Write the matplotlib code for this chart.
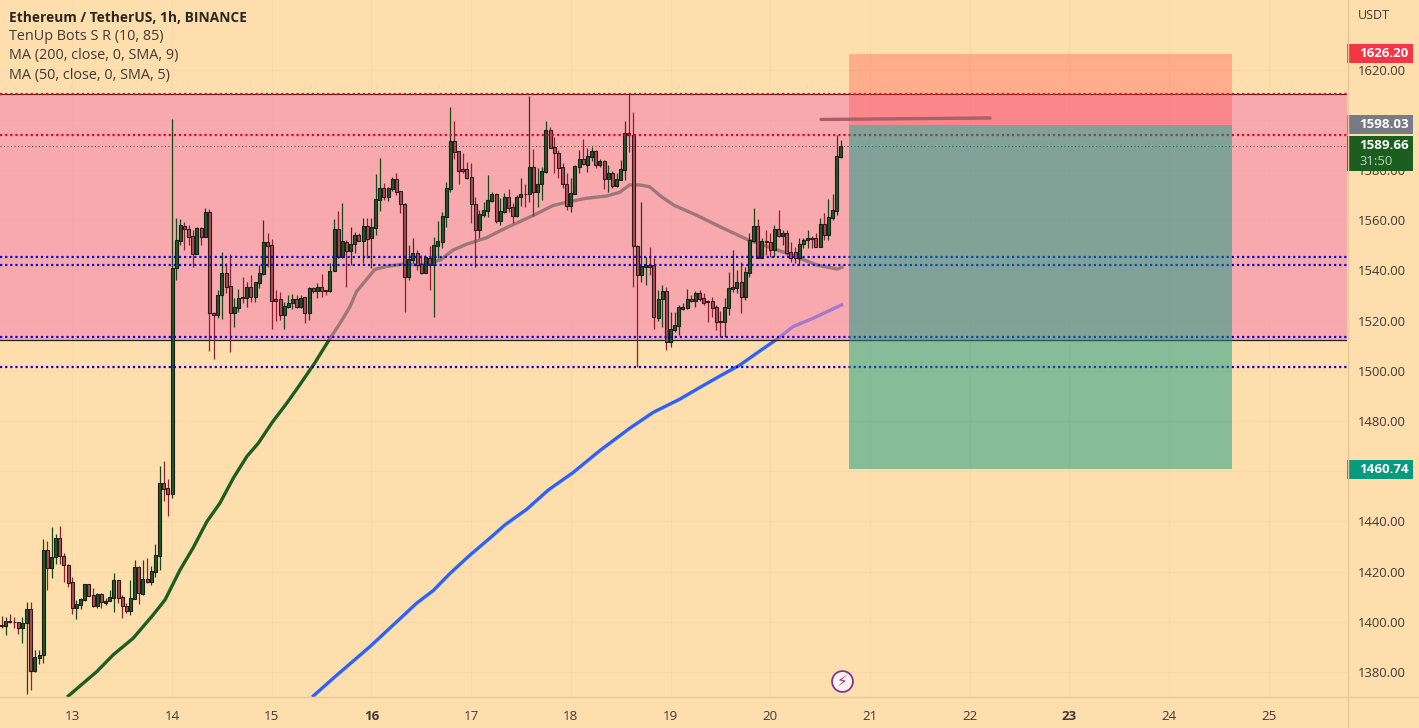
import matplotlib
matplotlib.use("Agg")
import matplotlib.pyplot as plt
from matplotlib.lines import Line2D
from matplotlib.patches import Rectangle
import numpy as np

plt.rcParams['font.family'] = ['Open Sans', 'DejaVu Sans']

# hourly candles, first one is 41 hours before the 14th
opens = [
    1398.6,1398.1,1400.3,1399.9,1399.8,1397.3,1399.4,1405.0,1380.4,1385.7,
    1386.6,1428.6,1421.2,1425.7,1433.4,1426.2,1422.5,1415.7,1405.6,1406.8,
    1408.8,1414.9,1410.5,1406.3,1411.1,1407.6,1408.4,1409.6,1416.7,1409.9,
    1406.4,1404.4,1409.2,1421.8,1411.1,1416.9,1416.0,1420.0,1426.3,1455.2,
    1453.2,1450.9,1540.8,1551.8,1557.8,1556.4,1553.7,1546.5,1556.8,1553.1,
    1563.2,1523.1,1522.2,1530.2,1538.8,1533.7,1522.9,1525.1,1529.2,1529.1,
    1533.2,1529.5,1535.0,1538.5,1551.1,1550.1,1528.4,1528.4,1522.2,1525.5,
    1526.8,1528.4,1525.5,1529.2,1523.1,1532.8,1531.9,1533.5,1532.0,1531.7,
    1539.9,1556.3,1545.2,1551.4,1547.8,1550.4,1554.1,1551.8,1557.5,1552.7,
    1556.7,1568.0,1572.9,1569.2,1572.4,1576.4,1571.5,1566.3,1537.5,1544.1,
    1547.0,1542.5,1539.0,1544.9,1542.1,1549.8,1551.4,1561.4,1572.4,1591.5,
    1587.5,1580.2,1580.2,1577.0,1566.3,1556.0,1562.0,1563.6,1567.6,1570.5,
    1559.7,1563.4,1569.2,1565.3,1561.6,1569.1,1570.5,1570.3,1581.0,1571.3,
    1574.2,1579.3,1595.9,1589.1,1586.9,1581.2,1574.2,1565.8,1570.5,1581.3,
    1584.4,1581.9,1585.0,1587.5,1581.9,1583.5,1576.4,1578.8,1573.7,1576.1,
    1580.1,1594.6,1593.9,1549.5,1538.1,1541.4,1542.1,1542.1,1521.1,1528.4,
    1531.8,1511.3,1516.2,1517.9,1524.6,1524.8,1528.6,1527.8,1530.8,1528.8,
    1527.8,1527.8,1525.3,1519.8,1519.3,1525.1,1532.6,1533.1,1535.2,1529.2,
    1539.0,1551.8,1557.7,1545.0,1551.7,1551.1,1548.1,1556.5,1553.8,1554.7,
    1547.2,1547.2,1545.0,1550.4,1551.9,1552.7,1552.7,1549.4,1558.3,1554.1,
    1560.7,1563.8,1585.3]
closes = [
    1398.1,1400.2,1399.7,1399.8,1397.3,1399.5,1405.0,1380.5,1385.8,1386.8,
    1428.6,1421.2,1425.7,1433.4,1426.0,1422.5,1415.6,1405.6,1407.0,1409.1,
    1414.9,1410.4,1406.4,1411.1,1408.0,1408.4,1409.7,1416.7,1409.6,1406.4,
    1404.4,1409.3,1421.8,1411.3,1417.1,1416.0,1420.2,1426.5,1455.3,1453.0,
    1450.9,1540.8,1552.1,1558.0,1556.3,1553.4,1546.5,1556.8,1553.4,1563.2,
    1522.9,1522.2,1530.2,1538.8,1533.5,1522.9,1525.2,1528.8,1528.8,1533.2,
    1529.5,1535.2,1538.8,1551.1,1549.8,1527.9,1527.9,1522.2,1525.8,1527.1,
    1528.4,1525.5,1529.1,1523.1,1532.8,1531.9,1533.5,1531.9,1531.7,1539.9,
    1556.3,1545.2,1551.7,1547.8,1550.4,1554.1,1551.8,1557.7,1552.5,1557.1,
    1568.4,1572.9,1569.2,1572.9,1576.4,1571.3,1566.3,1537.5,1544.5,1547.0,
    1542.1,1539.0,1545.2,1542.1,1550.1,1551.7,1561.8,1572.7,1591.5,1587.3,
    1579.7,1579.6,1576.9,1566.3,1556.0,1562.4,1564.0,1568.0,1570.5,1559.7,
    1563.6,1569.2,1564.9,1561.8,1569.3,1570.4,1570.3,1581.0,1571.3,1574.4,
    1579.6,1595.9,1588.9,1586.6,1580.9,1574.2,1565.8,1570.7,1581.5,1584.4,
    1582.2,1585.4,1587.5,1581.9,1583.5,1576.4,1578.8,1573.7,1576.4,1580.4,
    1594.6,1593.9,1549.7,1538.1,1541.7,1542.1,1541.5,1521.3,1528.6,1531.8,
    1511.3,1516.5,1518.2,1525.3,1525.3,1528.6,1527.8,1530.8,1528.7,1526.8,
    1527.2,1525.1,1519.5,1519.3,1525.3,1532.8,1533.3,1535.2,1529.5,1539.2,
    1552.1,1557.7,1545.0,1551.7,1551.1,1548.1,1556.5,1553.8,1554.7,1546.8,
    1545.0,1545.0,1550.4,1552.1,1552.7,1552.5,1549.4,1558.3,1554.1,1561.1,
    1564.0,1585.5,1589.66]
highs = [
    1402.3,1402.0,1403.1,1402.0,1399.9,1402.0,1407.9,1407.8,1388.8,1388.8,
    1432.9,1432.2,1437.8,1435.0,1438.3,1427.3,1423.0,1418.0,1408.7,1409.3,
    1415.1,1415.1,1413.3,1411.3,1411.3,1409.5,1412.7,1419.3,1416.7,1410.7,
    1407.4,1416.7,1424.5,1422.2,1424.6,1425.4,1422.0,1431.0,1462.1,1464.1,
    1456.9,1600.4,1560.7,1560.4,1559.4,1558.0,1556.0,1557.4,1557.4,1564.8,
    1564.3,1523.5,1532.1,1547.2,1542.8,1546.7,1528.8,1532.4,1537.2,1535.5,
    1538.1,1535.5,1542.1,1560.0,1554.7,1552.5,1532.1,1531.5,1527.5,1530.2,
    1530.5,1530.2,1530.2,1529.5,1533.5,1533.2,1535.0,1538.5,1532.1,1543.0,
    1560.3,1563.6,1566.9,1552.1,1557.4,1555.4,1554.7,1561.0,1560.7,1560.7,
    1578.2,1584.6,1574.7,1573.3,1577.3,1578.6,1571.6,1566.7,1550.1,1553.0,
    1548.1,1546.1,1546.1,1549.7,1553.4,1559.7,1563.4,1575.3,1605.2,1599.5,
    1587.5,1586.6,1583.0,1582.6,1569.3,1564.0,1567.3,1578.0,1571.3,1571.0,
    1568.7,1570.7,1572.4,1566.7,1570.0,1576.6,1574.2,1609.6,1588.3,1580.9,
    1581.3,1599.5,1597.2,1593.2,1587.9,1582.6,1578.6,1576.6,1581.9,1587.9,
    1592.3,1588.6,1589.3,1587.9,1584.4,1583.9,1581.9,1579.6,1578.6,1583.9,
    1599.5,1610.1,1602.9,1550.1,1567.4,1545.4,1549.4,1545.0,1532.2,1534.2,
    1533.5,1523.5,1523.5,1526.2,1526.8,1532.6,1530.2,1531.8,1532.2,1530.8,
    1528.2,1529.5,1526.2,1523.8,1528.8,1539.5,1548.1,1540.1,1543.4,1541.5,
    1554.7,1564.7,1560.4,1553.0,1556.0,1554.7,1558.0,1564.0,1556.0,1556.0,
    1551.1,1549.4,1553.0,1553.0,1556.0,1553.8,1554.7,1560.7,1562.7,1568.4,
    1570.3,1593.9,1591.9]
lows = [
    1397.3,1394.7,1399.4,1397.4,1395.1,1391.7,1371.0,1372.6,1380.1,1383.2,
    1383.7,1412.7,1417.5,1423.0,1423.0,1416.0,1414.0,1403.1,1401.2,1405.0,
    1408.4,1410.3,1406.0,1405.4,1405.6,1406.7,1408.2,1404.0,1407.6,1401.5,
    1403.6,1402.7,1409.0,1407.0,1410.8,1415.6,1414.8,1417.7,1420.6,1448.1,
    1442.3,1449.2,1536.1,1550.1,1548.1,1550.1,1541.4,1546.5,1550.1,1553.1,
    1508.0,1504.5,1520.9,1520.5,1530.8,1507.6,1517.3,1523.5,1526.8,1525.5,
    1527.5,1527.5,1532.8,1538.1,1541.4,1516.5,1519.9,1520.2,1516.5,1524.9,
    1524.6,1524.9,1524.9,1519.1,1520.2,1530.8,1528.8,1529.5,1530.2,1531.5,
    1539.9,1544.8,1544.8,1533.5,1542.1,1546.8,1551.7,1542.8,1545.0,1541.0,
    1554.1,1563.6,1568.0,1567.6,1571.6,1570.0,1562.7,1523.5,1536.1,1542.8,
    1540.1,1538.4,1539.0,1532.2,1521.5,1544.8,1548.8,1557.4,1571.3,1584.4,
    1574.4,1578.6,1576.4,1558.7,1541.5,1553.0,1561.4,1561.4,1567.1,1558.7,
    1558.0,1562.7,1563.1,1558.7,1561.4,1565.8,1565.3,1567.1,1561.8,1565.3,
    1568.0,1578.6,1588.6,1578.6,1576.6,1572.7,1564.0,1563.1,1570.3,1578.6,
    1581.9,1579.0,1583.5,1580.6,1581.3,1572.4,1571.1,1572.7,1573.2,1576.0,
    1576.0,1587.3,1533.5,1501.6,1535.5,1534.2,1538.1,1516.6,1519.8,1517.6,
    1508.3,1509.6,1515.6,1514.2,1524.2,1524.6,1527.2,1525.5,1527.8,1526.2,
    1519.5,1521.5,1516.2,1513.6,1513.6,1522.2,1531.2,1530.8,1522.9,1528.2,
    1537.5,1551.4,1544.8,1544.8,1546.1,1545.4,1545.4,1553.4,1550.1,1546.1,
    1543.4,1542.8,1542.1,1548.8,1548.8,1548.8,1549.4,1549.4,1552.1,1552.1,
    1560.0,1562.0,1584.9]

ma50_days = [12.96,13.245,13.41,13.61,13.81,13.93,14.08,14.21,14.35,14.48,14.615,14.75,14.865,
             15.01,15.15,15.28,15.43,15.585,15.685,15.785,15.85,16.035,16.15,16.32,16.49,16.69,
             16.82,16.955,17.155,17.355,17.62,17.82,17.955,18.155,18.36,18.49,18.59,18.69,18.79,
             18.91,19.04,19.26,19.495,19.78,20.165,20.47,20.67,20.72]
ma50_vals = [1370.4,1380.1,1386.8,1393.4,1402.7,1408.7,1420.6,1429.3,1439.9,1447.2,1457.2,1465.8,1471.1,
             1479.7,1487.0,1494.3,1503.0,1512.9,1518.9,1525.5,1531.5,1540.4,1541.5,1542.5,1542.1,1544.1,
             1548.1,1550.4,1553.0,1557.0,1561.8,1565.8,1567.1,1568.7,1569.6,1571.1,1574.0,1574.0,1573.3,
             1569.3,1565.8,1562.0,1557.4,1552.1,1546.8,1542.1,1540.5,1541.2]
ma200_days = [15.417,15.618,15.986,16.254,16.454,16.62,16.79,16.99,17.206,17.34,17.558,17.775,18.025,
              18.292,18.592,18.826,19.095,19.262,19.496,19.697,19.897,20.08,20.23,20.43,20.715]
ma200_vals = [1370.4,1377.5,1390.1,1400.0,1407.4,1412.4,1419.3,1426.6,1433.9,1438.6,1444.8,1452.5,1459.5,
              1468.2,1477.1,1483.4,1488.7,1492.6,1497.9,1502.3,1507.9,1512.9,1517.6,1520.9,1526.2]

band_top = 1610.2
band_bottom = 1512.2
red_levels = [1610.2, 1593.9]
blue_levels = [1545.3, 1542.2, 1513.3, 1501.6]
last_price = 1589.66
countdown = '31:50'

entry = 1598.03
stop = 1626.20
target = 1460.74
tool_start = 20.793
tool_end = 24.632

trend_days = [20.51, 22.205]
trend_vals = [1600.1, 1600.7]

day_ticks = [13, 14, 15, 16, 17, 18, 19, 20, 21, 22, 23, 24, 25]
bold_days = [16, 23]
price_ticks = list(range(1380, 1621, 20))

legend_lines = ['TenUp Bots S R (10, 85)', 'MA (200, close, 0, SMA, 9)', 'MA (50, close, 0, SMA, 5)']

bg = '#FFDEAD'
txt = '#3f3a34'
grid = '#f6d8ab'
axis_col = '#e8c89a'

W, H = 1419, 728
fig = plt.figure(figsize=(W / 100, H / 100), dpi=100, facecolor=bg)
ax = fig.add_axes([0, 31 / H, 1347 / W, 697 / H], facecolor=bg)
side = fig.add_axes([1347 / W, 31 / H, 72 / W, 697 / H], facecolor=bg)

ax.set_xlim(12.2748, 25.785)
ax.set_ylim(1370.0, 1647.7)
side.set_xlim(0, 72)
side.set_ylim(1370.0, 1647.7)

ax.set_xticks(day_ticks)
ax.set_yticks(price_ticks)
ax.set_yticklabels([])
ax.set_xticklabels([str(d) for d in day_ticks], fontsize=9.6, color=txt)
for lab, d in zip(ax.get_xticklabels(), day_ticks):
    if d in bold_days:
        lab.set_fontweight('bold')
ax.tick_params(length=0, pad=9)
ax.grid(True, color=grid, lw=0.8, zorder=0.5)
ax.set_axisbelow(True)
for s in ax.spines.values():
    s.set_visible(False)
for s in side.spines.values():
    s.set_visible(False)

# the moving averages sit under the band, that is why they go grey / purple in it
ax.plot(ma50_days, ma50_vals, color='#1b5e20', lw=2.4, zorder=1.5, solid_joinstyle='round')
ax.plot(ma200_days, ma200_vals, color='#2962ff', lw=2.4, zorder=1.5, solid_joinstyle='round')
ax.axhspan(band_bottom, band_top, color=(244 / 255, 136 / 255, 175 / 255), alpha=0.61, lw=0, zorder=2)

ax.axhline(band_top, color='#222222', lw=0.8, zorder=2.2)
ax.axhline(band_bottom, color='#222222', lw=0.9, zorder=2.2)

# candles
o = np.array(opens)
c = np.array(closes)
h = np.array(highs)
l = np.array(lows)
t = 14 + (np.arange(len(o)) - 41) / 24
up = c >= o
w = 3.0 / 99.7
ax.vlines(t[up], l[up], h[up], color='#14481a', lw=0.9, zorder=4)
ax.vlines(t[~up], l[~up], h[~up], color='#8a2030', lw=0.9, zorder=4)
ax.bar(t[up], (c - o)[up], w, o[up], color='#1b5e20', edgecolor='#1c1c1c', lw=0.8, zorder=4.2)
ax.bar(t[~up], (c - o)[~up], w, o[~up], color='#b24a55', edgecolor='#2a1c1c', lw=0.8, zorder=4.2)

for v in red_levels:
    ax.axhline(v, color='#f0002a', lw=1.6, ls=(0, (1, 1.3)), zorder=5)
for v in blue_levels:
    ax.axhline(v, color='#0a00e0', lw=1.6, ls=(0, (1, 1.3)), zorder=5)
ax.axhline(last_price, color='#333333', lw=0.7, ls=(0, (1, 2.6)), zorder=5)

# short position tool
ax.add_patch(Rectangle((tool_start, entry), tool_end - tool_start, stop - entry,
                       facecolor=(1, 60 / 255, 60 / 255, 0.3), edgecolor='none', zorder=6))
ax.add_patch(Rectangle((tool_start, target), tool_end - tool_start, entry - target,
                       facecolor=(8 / 255, 153 / 255, 129 / 255, 0.49), edgecolor='none', zorder=6))
ax.plot(trend_days, trend_vals, color='#a85f6e', lw=2.4, zorder=7, solid_capstyle='round')

# lightning badge
ax.plot([20.72], [1376.4], 'o', ms=15, mfc='#fff3e6', mec='#7a35a0', mew=1.3, zorder=8)
ax.text(20.72, 1376.2, '\u26a1', color='#9c27b0', fontsize=11, ha='center', va='center', zorder=9,
        family='DejaVu Sans')

# legend text
ax.text(9 / 1347, 1 - 18 / 697, 'Ethereum / TetherUS, 1h, BINANCE', transform=ax.transAxes,
        fontsize=9.9, fontweight='bold', color='#2b2622', va='center', zorder=10)
for i, s in enumerate(legend_lines):
    ax.text(9 / 1347, 1 - (37 + i * 19) / 697, s, transform=ax.transAxes, fontsize=10.4,
            color=txt, va='center', zorder=10)

# price scale, 1460.00 is fully under the target label so it stays empty
side.set_xticks([])
side.yaxis.tick_right()
side.set_yticks(price_ticks)
side.set_yticklabels(['' if p == 1460 else '%.2f' % p for p in price_ticks], fontsize=9.4, color=txt, ha='left')
side.tick_params(length=0, pad=-44)
side.text(11, 1641.4, 'USDT', fontsize=9.0, color=txt, va='center')

box_h = 19 * 0.39833
for v, col in [(stop, '#f23645'), (entry, '#787b86'), (target, '#089981')]:
    side.add_patch(Rectangle((0, v - box_h / 2), 66, box_h, facecolor=col, edgecolor='none', zorder=5))
    side.text(12, v, '%.2f' % v, fontsize=9.6, fontweight='bold', color='white', va='center', zorder=6)
side.add_patch(Rectangle((0, 1579.6), 66, 13.9, facecolor='#1b5e20', edgecolor='none', zorder=5))
side.text(12, last_price, '%.2f' % last_price, fontsize=9.6, fontweight='bold', color='white',
          va='center', zorder=6)
side.text(12, 1583.2, countdown, fontsize=9.4, color='#b9d8bb', va='center', zorder=6)

# axis borders run to the picture edge
fig.add_artist(Line2D([0, 1], [31.5 / H, 31.5 / H], color=axis_col, lw=1))
fig.add_artist(Line2D([1347.5 / W, 1347.5 / W], [0, 1], color=axis_col, lw=1))

fig.savefig('out.png', dpi=100, facecolor=bg)
